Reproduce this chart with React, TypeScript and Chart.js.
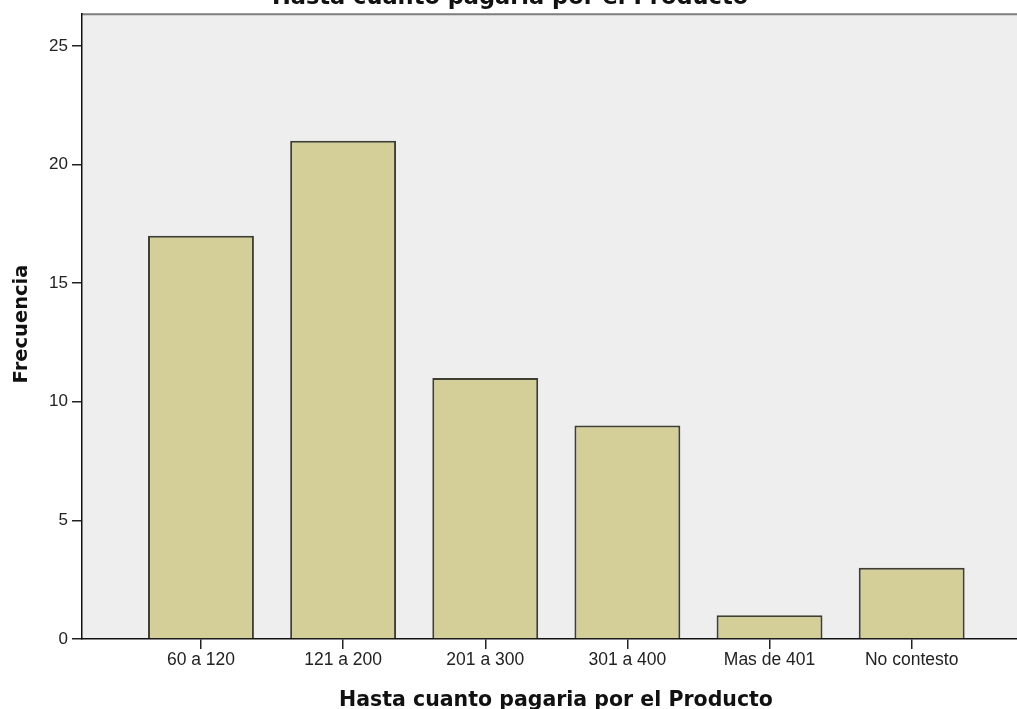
import React, { useEffect, useRef } from "react";
import { Chart, registerables } from "chart.js";

Chart.register(...registerables);

const categories = ["60 a 120", "121 a 200", "201 a 300", "301 a 400", "Mas de 401", "No contesto"];
const frequencies = [17, 21, 11, 9, 1, 3];
const yTicks = [0, 5, 10, 15, 20, 25];
const chartTitle = "Hasta cuanto pagaria por el Producto";
const xTitle = "Hasta cuanto pagaria por el Producto";
const yTitle = "Frecuencia";

const W = 1017;
const H = 709;

const decorPlugin = {
  id: "decor",
  beforeDraw(chart: any) {
    const { ctx, chartArea } = chart;
    ctx.save();
    ctx.fillStyle = "#EEEEEE";
    ctx.fillRect(chartArea.left, chartArea.top, chartArea.right - chartArea.left, chartArea.bottom - chartArea.top);
    ctx.strokeStyle = "#7d7d7d";
    ctx.lineWidth = 2;
    ctx.beginPath();
    ctx.moveTo(chartArea.left, chartArea.top);
    ctx.lineTo(chartArea.right, chartArea.top);
    ctx.stroke();
    ctx.restore();
  },
  afterDraw(chart: any) {
    const { ctx } = chart;
    ctx.save();
    ctx.fillStyle = "#111";
    ctx.textAlign = "center";
    ctx.textBaseline = "alphabetic";
    ctx.font = "bold 22.5px 'DejaVu Sans'";
    ctx.fillText(chartTitle, 510, 4);
    ctx.font = "bold 20.5px 'DejaVu Sans'";
    ctx.fillText(xTitle, 556, 706);
    ctx.translate(27, 324);
    ctx.rotate(-Math.PI / 2);
    ctx.font = "bold 19.5px 'DejaVu Sans'";
    ctx.fillText(yTitle, 0, 0);
    ctx.restore();
  },
};

export default function App() {
  const ref = useRef<HTMLCanvasElement | null>(null);
  useEffect(() => {
    if (!ref.current) return;
    const chart = new Chart(ref.current, {
      type: "bar",
      data: {
        datasets: [
          {
            data: frequencies.map((v, i) => ({ x: i + 1, y: v })),
            backgroundColor: "#D4CF98",
            borderColor: "#3e3e32",
            borderWidth: 2,
            barPercentage: 0.745,
            categoryPercentage: 1,
          },
        ],
      },
      options: {
        animation: false,
        responsive: false,
        devicePixelRatio: 1,
        layout: { padding: { top: 12, left: 0, right: 0, bottom: 0 } },
        plugins: { legend: { display: false }, tooltip: { enabled: false }, title: { display: false } },
        scales: {
          x: {
            type: "linear",
            offset: false,
            min: 0.163,
            max: 6.741,
            afterBuildTicks: (scale: any) => {
              scale.ticks = categories.map((_, i) => ({ value: i + 1 }));
            },
            afterFit: (scale: any) => {
              scale.height = 70;
            },
            ticks: {
              autoSkip: false,
              maxRotation: 0,
              padding: 1,
              color: "#222",
              font: { family: "'Liberation Sans', Arial", size: 17.5 },
              callback: (v: any) => categories[Math.round(v) - 1] ?? "",
            },
            grid: { offset: false, drawOnChartArea: false, drawTicks: true, tickLength: 10, color: "#222", lineWidth: 1.5 },
            border: { display: true, color: "#111", width: 1.5 },
          },
          y: {
            type: "linear",
            min: 0,
            max: 26.34,
            afterBuildTicks: (scale: any) => {
              scale.ticks = yTicks.map((v) => ({ value: v }));
            },
            afterFit: (scale: any) => {
              scale.width = 82;
            },
            ticks: {
              padding: 4,
              color: "#222",
              font: { family: "'Liberation Sans', Arial", size: 17 },
            },
            grid: { drawOnChartArea: false, drawTicks: true, tickLength: 10, color: "#222", lineWidth: 1.5 },
            border: { display: true, color: "#111", width: 1.5 },
          },
        },
      },
      plugins: [decorPlugin],
    });
    return () => chart.destroy();
  }, []);
  return (
    <div style={{ position: "absolute", left: 0, top: 0, width: W, height: H, background: "#fff" }}>
      <canvas ref={ref} width={W} height={H} style={{ display: "block" }} />
    </div>
  );
}
